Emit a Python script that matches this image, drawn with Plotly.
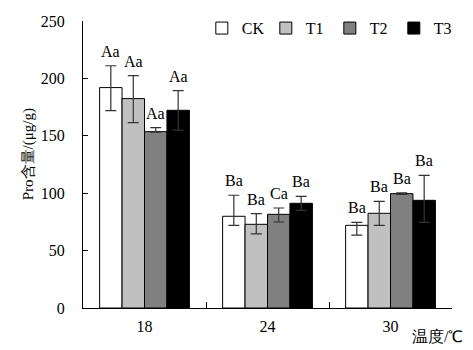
import plotly.graph_objects as go

categories = ["18", "24", "30"]
series_names = ["CK", "T1", "T2", "T3"]
ck = [192.0, 79.9, 72.0]
t1 = [182.4, 72.9, 82.5]
t2 = [153.6, 81.6, 99.6]
t3 = [172.2, 91.2, 93.8]
ck_err_plus = [19.0, 18.3, 2.5]
ck_err_minus = [20.0, 7.9, 8.5]
t1_err_plus = [20.0, 9.3, 10.3]
t1_err_minus = [21.0, 8.4, 10.5]
t2_err_plus = [3.5, 5.5, 0.6]
t2_err_minus = [0.5, 6.7, 0.6]
t3_err_plus = [17.2, 6.1, 21.8]
t3_err_minus = [17.2, 6.1, 19.2]
ck_labels = ["Aa", "Ba", "Ba"]
t1_labels = ["Aa", "Ba", "Ba"]
t2_labels = ["Aa", "Ca", "Ba"]
t3_labels = ["Aa", "Ba", "Ba"]

colors = ["#ffffff", "#c0c0c0", "#808080", "#000000"]
values = [ck, t1, t2, t3]
errs_p = [ck_err_plus, t1_err_plus, t2_err_plus, t3_err_plus]
errs_m = [ck_err_minus, t1_err_minus, t2_err_minus, t3_err_minus]
labels = [ck_labels, t1_labels, t2_labels, t3_labels]

FONT = "Liberation Serif, Times New Roman, serif"
bargap = 0.27

fig = go.Figure()
for name, vals, ep, em, col in zip(series_names, values, errs_p, errs_m, colors):
    fig.add_trace(go.Bar(
        x=categories, y=vals, name=name,
        marker=dict(color=col, line=dict(color="black", width=1)),
        error_y=dict(type="data", symmetric=False, array=ep, arrayminus=em,
                     color="#333333", thickness=1.2, width=5.5),
    ))

n = len(series_names)
bw = (1 - bargap) / n
for i, (vals, ep, labs) in enumerate(zip(values, errs_p, labels)):
    for j, (v, e, lab) in enumerate(zip(vals, ep, labs)):
        fig.add_annotation(
            x=j - (1 - bargap) / 2 + bw * (i + 0.5), y=v + e,
            xref="x", yref="y", text=lab, showarrow=False,
            yanchor="bottom", xanchor="center", yshift=4,
            font=dict(family=FONT, size=16, color="black"),
        )

fig.add_annotation(
    x=0.962, y=-0.1, xref="paper", yref="paper", text="温度/℃", showarrow=False,
    xanchor="center", yanchor="middle",
    font=dict(family=FONT, size=16, color="black"),
)
fig.add_annotation(
    x=-0.149, y=0.5355, xref="paper", yref="paper", text="Pro含量/(μg/g)",
    showarrow=False, textangle=-90, xanchor="center", yanchor="middle",
    font=dict(family=FONT, size=15, color="black"),
)

fig.update_layout(
    width=473, height=350,
    margin=dict(l=83, r=21, t=21, b=42, autoexpand=False),
    paper_bgcolor="white", plot_bgcolor="white",
    barmode="group", bargap=bargap, bargroupgap=0,
    font=dict(family=FONT, size=16, color="black"),
    showlegend=True,
    legend=dict(orientation="h", x=0.322, y=0.975, xanchor="left", yanchor="middle",
                font=dict(family=FONT, size=16), entrywidth=19, entrywidthmode="pixels",
                bgcolor="rgba(0,0,0,0)", itemclick=False),
    xaxis=dict(type="category", showline=True, linecolor="black", linewidth=1,
               ticks="inside", tickson="boundaries", ticklen=6, tickcolor="black",
               showgrid=False, tickfont=dict(family=FONT, size=16), ticklabelstandoff=4),
    yaxis=dict(range=[0, 250], dtick=50, showline=True, linecolor="black", linewidth=1,
               ticks="inside", ticklen=5, tickcolor="black", showgrid=False, zeroline=False,
               tickfont=dict(family=FONT, size=16), ticklabelstandoff=14),
)

fig.write_html("out.html")
